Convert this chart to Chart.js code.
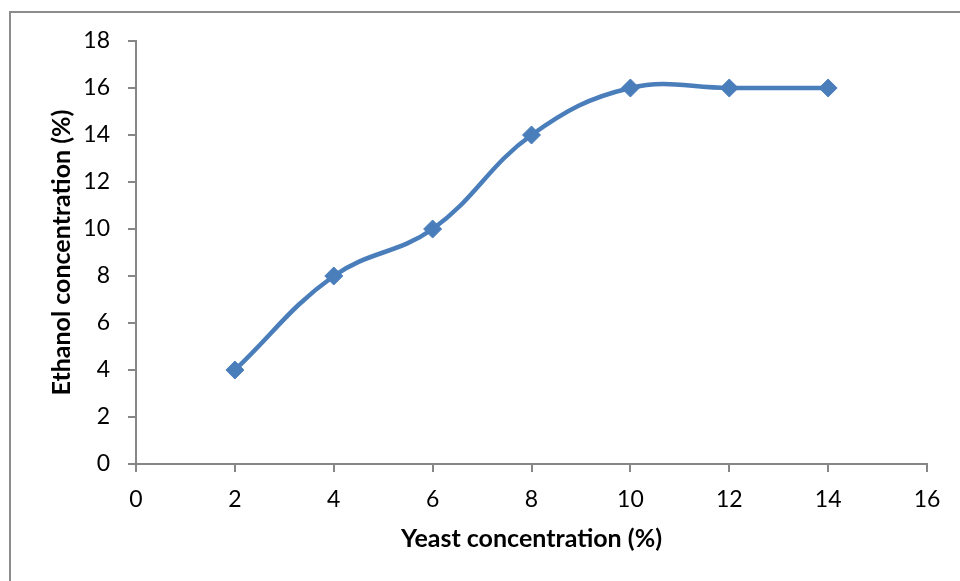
<!DOCTYPE html>
<html>
<head>
<meta charset="utf-8">
<title>Ethanol vs yeast concentration</title>
<script src="https://cdn.jsdelivr.net/npm/chart.js@4/dist/chart.umd.min.js"></script>
<style>
  html, body { margin: 0; padding: 0; background: #fff; overflow: hidden; }
  #wrap { position: relative; width: 960px; height: 581px; }
  #chartFrame { position: absolute; left: 9px; top: 11px; width: 2000px; height: 2000px;
    border-left: 2px solid #8c8c8c; border-top: 2px solid #8c8c8c; pointer-events: none; }
</style>
</head>
<body>
<div id="wrap">
  <canvas id="yeastChart" width="960" height="581"></canvas>
  <div id="chartFrame"></div>
</div>
<script>
// data
const yeastConc = [2, 4, 6, 8, 10, 12, 14];
const ethanolConc = [4, 8, 10, 14, 16, 16, 16];
const xAxisRange = [0, 16, 2];   // min, max, step
const yAxisRange = [0, 18, 2];
const xTitle = 'Yeast concentration (%)';
const yTitle = 'Ethanol concentration (%)';

const lineColor = '#4a7ebb';
const axisGray = '#868686';
const fontFamily = 'Lato, "Open Sans", sans-serif';

Chart.defaults.font.family = fontFamily;
Chart.defaults.color = '#000';

const pts = yeastConc.map((x, i) => ({ x: x, y: ethanolConc[i] }));

function axisBase(range) {
    return {
        type: 'linear', min: range[0], max: range[1],
        grid: { drawOnChartArea: false, drawTicks: true, tickLength: 8, color: axisGray, lineWidth: 2 },
        border: { display: true, color: axisGray, width: 2 },
        ticks: { stepSize: range[2], color: '#000', font: { size: 23 } }
    };
}

const xScale = axisBase(xAxisRange);
xScale.ticks.padding = 14;
xScale.title = { display: true, text: xTitle, color: '#000', font: { size: 25, weight: 'bold' }, padding: { top: 0, bottom: 27 } };
xScale.afterFit = s => { s.height = 117; };

const yScale = axisBase(yAxisRange);
yScale.ticks.padding = 18;
yScale.title = { display: true, text: yTitle, color: '#000', font: { size: 25, weight: 'bold' }, padding: { top: 47, bottom: 0 } };
yScale.afterFit = s => { s.width = 136; };

new Chart(document.getElementById('yeastChart'), {
    type: 'line',
    data: { datasets: [{
        data: pts,
        borderColor: lineColor, backgroundColor: lineColor,
        borderWidth: 4.5, tension: 0.4, fill: false,
        pointStyle: 'rectRot', pointRadius: 9, pointBorderWidth: 1,
        pointBorderColor: lineColor, pointBackgroundColor: lineColor
    }] },
    options: {
        responsive: false, animation: false, devicePixelRatio: 1,
        layout: { padding: { top: 41, right: 33, left: 0, bottom: 0 } },
        plugins: { legend: { display: false }, tooltip: { enabled: false } },
        scales: { x: xScale, y: yScale }
    }
});
</script>
</body>
</html>
